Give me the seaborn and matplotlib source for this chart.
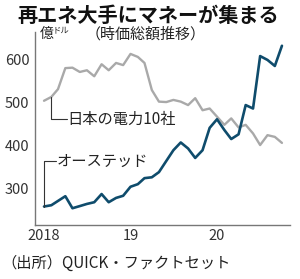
import pandas as pd
import numpy as np
import matplotlib
matplotlib.use("Agg")
import matplotlib.pyplot as plt
import seaborn as sns

# monthly market cap, 100 million USD
months = pd.date_range("2018-01-01", periods=34, freq="MS")
orsted = [257, 260, 270, 281, 253, 258, 263, 267, 286, 267, 277, 282,
          303, 309, 323, 325, 337, 363, 388, 406, 392, 370, 388, 440,
          460, 435, 414, 425, 493, 485, 607, 598, 584, 631]
japan_power10 = [503, 512, 530, 579, 580, 570, 574, 560, 588, 574, 591, 586,
                 612, 605, 591, 528, 501, 500, 505, 501, 493, 509, 481, 485,
                 466, 447, 462, 441, 447, 427, 400, 423, 419, 405]
yticks = [300, 400, 500, 600]
xtick_dates = ["2018-01-01", "2019-01-01", "2020-01-01"]
xtick_labels = ["2018", "19", "20"]

df = pd.DataFrame({"month": list(months) * 2,
                   "value": orsted + japan_power10,
                   "series": ["オーステッド"] * 34 + ["日本の電力10社"] * 34})

sns.set_theme(style="white")
plt.rcParams["font.family"] = ["Noto Sans CJK JP", "DejaVu Sans"]

W, H = 300, 279
fig = plt.figure(figsize=(W / 100, H / 100), dpi=100)
ax = fig.add_axes([35 / W, 1 - 225 / H, 255 / W, 193 / H])

sns.lineplot(data=df, x="month", y="value", hue="series",
             palette={"オーステッド": "#0f4c6c", "日本の電力10社": "#a9a9a9"},
             hue_order=["日本の電力10社", "オーステッド"],
             linewidth=1.9, legend=False, ax=ax)
for ln in ax.lines:
    if ln.get_color() == "#a9a9a9":
        ln.set_linewidth(1.7)

ax.set_ylim(214, 663)
ax.set_xlim(pd.Timestamp("2017-11-24"), pd.Timestamp("2020-11-04"))
ax.set_yticks(yticks)
ax.set_yticklabels([str(v) for v in yticks])
ax.set_xticks(pd.to_datetime(xtick_dates))
ax.set_xticklabels(xtick_labels)
ax.set_xlabel("")
ax.set_ylabel("")
for s in ["top", "right"]:
    ax.spines[s].set_visible(False)
for s in ["left", "bottom"]:
    ax.spines[s].set_color("#777777")
    ax.spines[s].set_linewidth(1.0)
ax.tick_params(axis="y", direction="out", length=3, width=0.8, color="#777777",
               labelsize=10.5, labelcolor="#333333", pad=1)
ax.tick_params(axis="x", direction="in", length=3, width=0.8, color="#777777",
               labelsize=10.5, labelcolor="#333333", pad=3)

# leader lines + labels
ax.plot([months[1], months[1], pd.Timestamp("2018-04-08")],
        [japan_power10[1], 460, 460], color="#333333", linewidth=0.8)
ax.text(pd.Timestamp("2018-04-11"), 460, "日本の電力10社", fontsize=11,
        color="#222222", va="center", ha="left")
ax.plot([months[0], months[0], pd.Timestamp("2018-02-20")],
        [orsted[0], 363, 363], color="#333333", linewidth=0.8)
ax.text(pd.Timestamp("2018-02-23"), 363, "オーステッド", fontsize=11,
        color="#222222", va="center", ha="left")

fig.text(148 / W, 1 - 15 / H, "再エネ大手にマネーが集まる", fontsize=14.5,
         fontweight="bold", ha="center", va="center", color="#111111")
fig.text(40 / W, 1 - 34 / H, "億", fontsize=10, ha="left", va="center", color="#222222")
fig.text(53 / W, 1 - 30 / H, "ドル", fontsize=6, ha="left", va="center", color="#222222")
fig.text(86 / W, 1 - 34 / H, "（時価総額推移）", fontsize=10.8, ha="left",
         va="center", color="#222222")
fig.text(1 / W, 1 - 263 / H, "（出所）QUICK・ファクトセット", fontsize=11,
         ha="left", va="center", color="#222222")

fig.savefig("out.png", dpi=100, facecolor="white")
